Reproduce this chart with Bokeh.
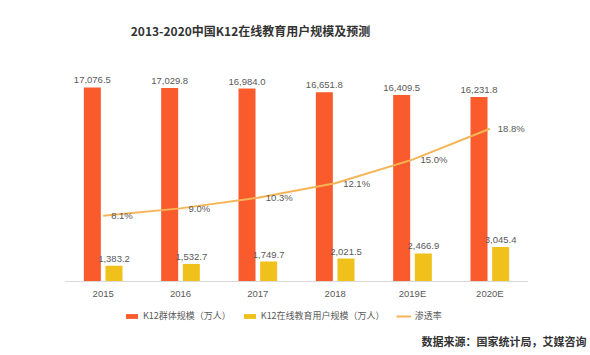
from bokeh.plotting import figure
from bokeh.models import ColumnDataSource, FactorRange, Range1d, Legend, LegendItem, Label, LabelSet, Title
from bokeh.transform import dodge
from bokeh.core.properties import value
from bokeh.embed import file_html
from bokeh.resources import INLINE

years = ["2015", "2016", "2017", "2018", "2019E", "2020E"]
k12_total = [17076.5, 17029.8, 16984.0, 16651.8, 16409.5, 16231.8]
k12_online = [1383.2, 1532.7, 1749.7, 2021.5, 2466.9, 3045.4]
penetration = [8.1, 9.0, 10.3, 12.1, 15.0, 18.8]

title_text = "2013-2020中国K12在线教育用户规模及预测"
source_text = "数据来源：国家统计局，艾媒咨询"
legend_labels = ["K12群体规模（万人）", "K12在线教育用户规模（万人）", "渗透率"]

ORANGE = "#F95B2C"
YELLOW = "#EFC11A"
LINEC = "#F5B557"
TXT = "#595959"
NUM_FONT = "Liberation Sans"
CJK_FONT = "Noto Sans CJK SC"

src = ColumnDataSource(dict(
    year=years,
    total=k12_total,
    online=k12_online,
    pen=penetration,
    total_lbl=[f"{v:,.1f}" for v in k12_total],
    online_lbl=[f"{v:,.1f}" for v in k12_online],
    pen_lbl=[f"{v:.1f}%" for v in penetration],
))

# Layout: frame spans canvas y 0 .. F; value zero sits at canvas y 281
F = 330
BASE = 281
BAR_PX = 88.0      # units per pixel, bars
PEN_PX = 8.125     # pixels per percent, line

p = figure(x_range=FactorRange(*years),
           y_range=Range1d(-(F - BASE) * BAR_PX, BASE * BAR_PX),
           width=590, height=355, output_backend="svg", toolbar_location=None,
           min_border_left=64, min_border_right=62, min_border_top=0,
           min_border_bottom=355 - F)
p.extra_y_ranges = {"pen": Range1d(-(F - BASE) / PEN_PX, BASE / PEN_PX)}
p.outline_line_color = None
p.grid.visible = False
p.yaxis.visible = False

xa = p.xaxis[0]
xa.fixed_location = 0
xa.axis_line_color = "#D9D9D9"
xa.major_tick_line_color = None
xa.minor_tick_line_color = None
xa.major_tick_out = 0
xa.major_tick_in = 0
xa.major_label_text_font = NUM_FONT
xa.major_label_text_font_size = "9.5px"
xa.major_label_text_color = TXT
xa.major_label_standoff = 6

b1 = p.vbar(x=dodge("year", -0.14, range=p.x_range), top="total", bottom=0, width=0.22,
            source=src, fill_color=ORANGE, line_color=None)
b2 = p.vbar(x=dodge("year", 0.14, range=p.x_range), top="online", bottom=0, width=0.22,
            source=src, fill_color=YELLOW, line_color=None)
ln = p.line(x="year", y="pen", y_range_name="pen", source=src, line_color=LINEC, line_width=2)

p.add_layout(LabelSet(x=dodge("year", -0.14, range=p.x_range), y="total", text="total_lbl",
                      source=src, text_align="center", text_baseline="bottom", y_offset=4,
                      text_font=value(NUM_FONT), text_font_size="9.5px", text_color=TXT))
p.add_layout(LabelSet(x=dodge("year", 0.14, range=p.x_range), y="online", text="online_lbl",
                      source=src, text_align="center", text_baseline="bottom", y_offset=4,
                      text_font=value(NUM_FONT), text_font_size="9.5px", text_color=TXT))
p.add_layout(LabelSet(x="year", y="pen", y_range_name="pen", text="pen_lbl", source=src,
                      text_align="left", text_baseline="middle", x_offset=8,
                      text_font=value(NUM_FONT), text_font_size="9.5px", text_color=TXT))

legend = Legend(items=[LegendItem(label=legend_labels[0], renderers=[b1]),
                       LegendItem(label=legend_labels[1], renderers=[b2]),
                       LegendItem(label=legend_labels[2], renderers=[ln])],
                orientation="horizontal", location=(60, F - 322),
                glyph_width=15, glyph_height=6, label_height=10,
                label_text_font=CJK_FONT, label_text_font_size="9px", label_text_color=TXT,
                spacing=11, label_standoff=4, padding=0, margin=0,
                border_line_color=None, background_fill_alpha=0)
p.add_layout(legend)

# chart title: Label in frame-relative screen units (inside the frame)
p.add_layout(Label(x=186, y=F - 30, x_units="screen", y_units="screen", text=title_text,
                   text_align="center", text_baseline="middle", text_font=CJK_FONT,
                   text_font_size="12px", text_font_style="bold", text_color="#333333"))

# data source note below the frame
p.add_layout(Title(text=source_text, align="right", offset=-58, standoff=0,
                   text_font=CJK_FONT, text_font_size="11px", text_font_style="bold",
                   text_color="#333333"), "below")

open("out.html", "w").write(file_html(p, INLINE))
